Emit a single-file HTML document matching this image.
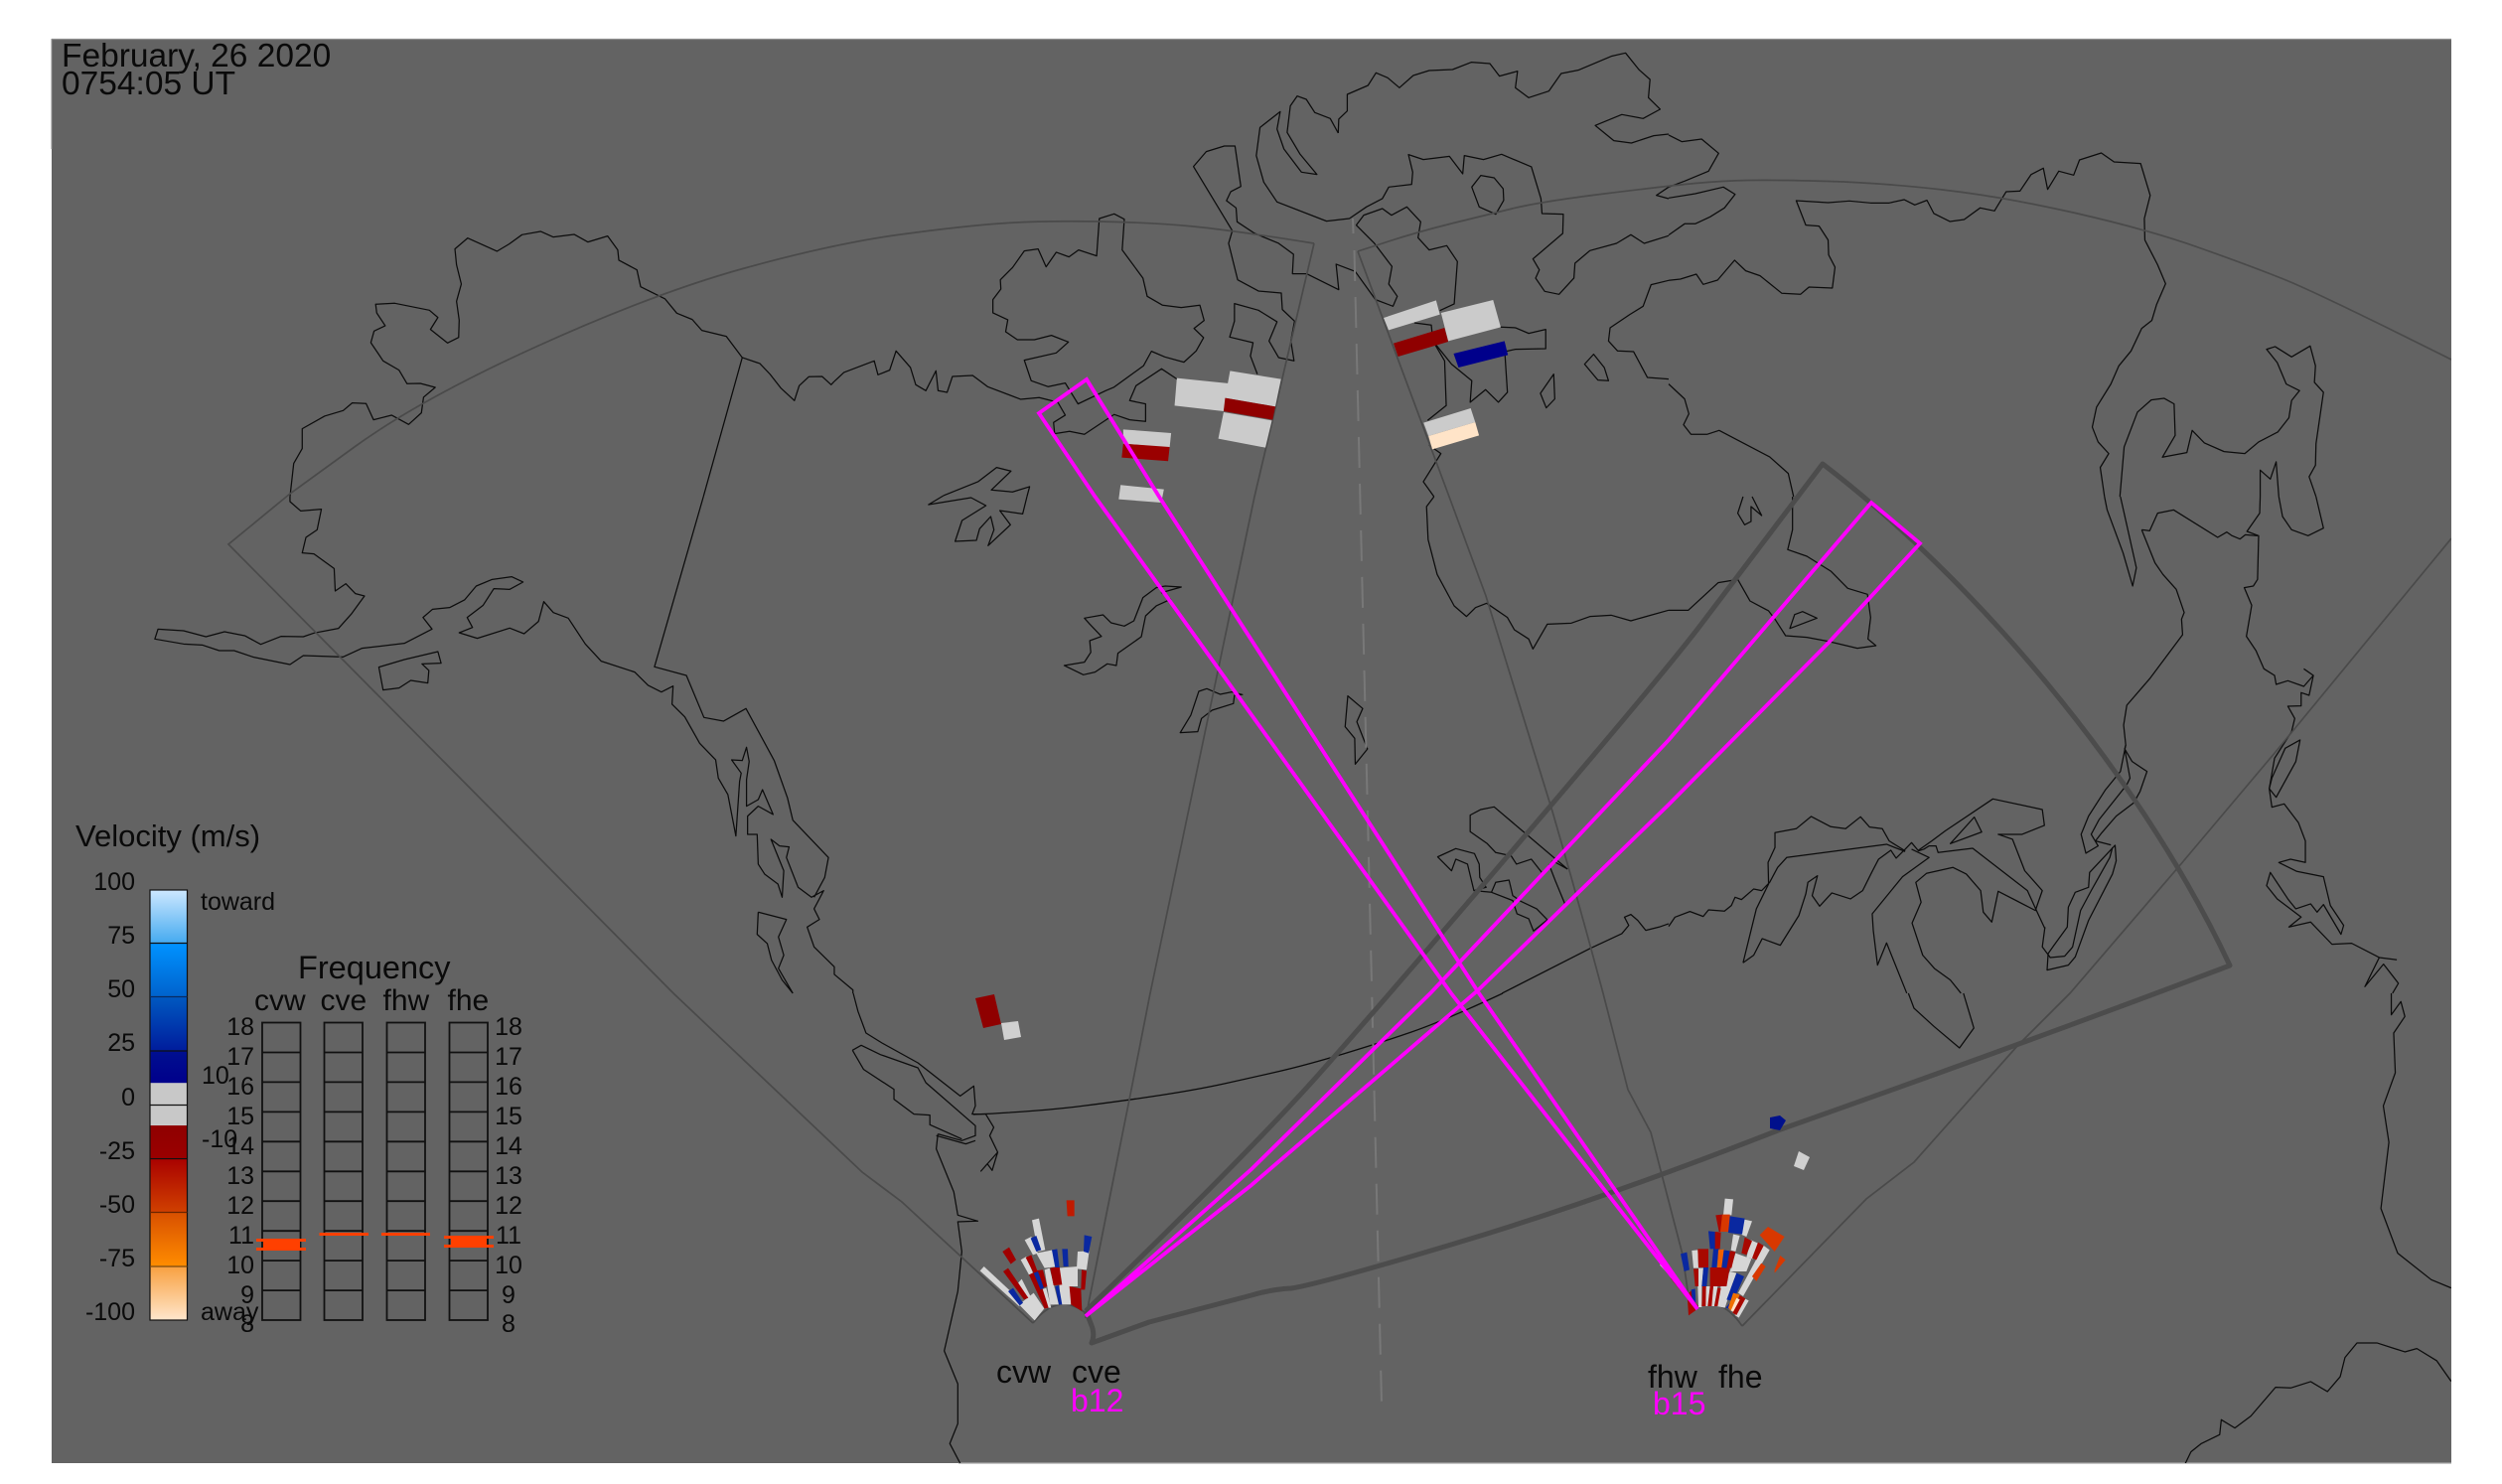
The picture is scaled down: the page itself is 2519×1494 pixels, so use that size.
<!DOCTYPE html>
<html><head><meta charset="utf-8"><style>
html,body{margin:0;padding:0;background:#fff}
svg{display:block}
.c polyline,.c polygon{fill:none;stroke:#0c0c0c;stroke-width:1.25;vector-effect:non-scaling-stroke;stroke-linejoin:round}
.t{font-family:"Liberation Sans",sans-serif;fill:#0a0a0a}
.f{stroke:#4a4a4a;stroke-width:1.7;fill:none}
</style></head><body>
<svg width="2519" height="1494" viewBox="0 0 2519 1494" xmlns="http://www.w3.org/2000/svg">
<defs>
<clipPath id="p"><rect x="52" y="39" width="2416" height="1434"/></clipPath>
<linearGradient id="bar" gradientUnits="userSpaceOnUse" x1="0" y1="896" x2="0" y2="1329">
<stop offset="0" stop-color="#cde8ff"/><stop offset=".124" stop-color="#45aaf0"/><stop offset=".125" stop-color="#0092ff"/>
<stop offset=".249" stop-color="#0062cc"/><stop offset=".25" stop-color="#0058c0"/><stop offset=".375" stop-color="#001c9c"/>
<stop offset=".376" stop-color="#000f90"/><stop offset=".448" stop-color="#00008b"/><stop offset=".449" stop-color="#c8c8c8"/>
<stop offset=".547" stop-color="#c8c8c8"/><stop offset=".548" stop-color="#8f0000"/><stop offset=".621" stop-color="#9a0000"/>
<stop offset=".622" stop-color="#a80000"/><stop offset=".749" stop-color="#d04000"/><stop offset=".75" stop-color="#d85000"/>
<stop offset=".874" stop-color="#ff8c00"/><stop offset=".875" stop-color="#f8a040"/><stop offset="1" stop-color="#ffe6cc"/>
</linearGradient>
</defs>
<rect width="2519" height="1494" fill="#fff"/>
<rect x="52" y="39" width="2416" height="1434" fill="#636363"/>
<line x1="52" y1="39.5" x2="2468" y2="39.5" stroke="#8c8c8c" stroke-width="1.2"/>
<line x1="965" y1="1473" x2="2468" y2="1473" stroke="#a8a8a8" stroke-width="1.2"/>
<line x1="52" y1="39" x2="52" y2="150" stroke="#8c8c8c" stroke-width="1"/>
<g clip-path="url(#p)">
<g class="c">
<g transform="translate(0,0) scale(.5357,.3333)">
<polyline points="545,1500 552,1400 568,1355 568,1295 610,1257 645,1240 662,1217 688,1219 702,1268 736,1254 768,1282 792,1247 796,1200 818,1170 790,1158 765,1159 750,1118 720,1090 697,1035 703,1000 724,984 708,945 706,919 742,916 807,937 823,959 809,995 841,1036 862,1019 863,967 858,910 867,858 858,800 855,752 879,719 934,759 957,737 981,709 1016,699 1040,716 1079,708 1105,731 1142,713 1161,755 1163,786 1197,815 1204,866 1250,903 1272,946 1301,965 1319,998 1365,1016 1395,1080 1428,1098 1447,1130 1468,1173 1493,1210 1502,1165 1520,1138 1545,1137 1562,1162 1568,1152"/>
<polyline points="1395,1080 1322,1500"/>
</g>
<g transform="translate(840,0) scale(.5357,.3333)">
<polyline points="0,1152 18,1125 75,1090 82,1132 104,1118 116,1060 143,1110 153,1162 172,1180 191,1120 195,1180 212,1185 222,1137 260,1134 288,1168 350,1206 385,1201 420,1215 434,1254 412,1276 414,1310 442,1303 470,1312 526,1252 555,1268 585,1273 585,1220 555,1210 567,1165 615,1114 645,1146"/>
<polyline points="795,1130 782,1075 787,1035 743,1018 752,970 752,917 797,937 832,972 817,1030 835,1080 864,1090 858,1030 865,970 842,935 840,885 797,879 758,845 741,735 748,697 675,503 699,458 733,441 753,441 764,563 745,579 737,606 755,628 757,670 790,705 835,735 863,768 861,827 888,827 948,875 943,798 979,820 988,840 1017,905 1050,925 1058,895 1042,858 1048,805 1015,735 981,680 995,650 1030,630 1047,650 1076,625 1102,670 1097,718 1118,755 1151,742 1171,790 1165,918 1138,938"/>
<polyline points="1090,975 1122,982 1125,1030 1147,1090 1150,1225 1115,1270"/>
<polyline points="1118,1345 1140,1370 1107,1455 1127,1500"/>
<polyline points="1125,1030 1160,1100 1198,1150 1195,1215 1224,1177 1248,1215 1265,1185 1260,1062 1280,1055 1337,1053 1337,995 1305,1007 1280,990 1252,988"/>
<polygon points="458,1220 434,1157 402,1168 370,1150 357,1088 417,1066 440,1033 408,1013 376,1026 344,1026 322,1002 326,966 298,945 298,905 313,873 312,845 335,808 357,758 383,752 398,806 417,762 441,776 459,755 493,773 498,660 526,646 545,662 541,755 580,840 588,895 617,922 652,929 687,922 695,968 676,992 694,1020 680,1060 657,1094 621,1078 596,1061 581,1105 525,1170 510,1180"/>
<polyline points="947,402 932,358 903,340 887,300 870,290 857,320 851,400 875,465 907,527 878,520 845,450 832,390 838,337 800,385 793,470 807,550 832,610 925,668 968,660 1000,625 1030,600 1042,565 1085,557 1087,520 1079,467 1107,482 1156,472 1181,525 1184,470 1220,482 1254,466 1310,504 1328,600 1330,645 1370,647 1369,705 1313,782 1325,815 1318,840 1335,880 1362,889 1390,840 1392,795 1420,757 1470,735 1497,709 1522,735 1568,712"/>
<polyline points="947,402 948,360 964,335 964,285 1003,258 1018,220 1040,235 1062,265 1088,228 1118,213 1162,210 1197,188 1232,192 1250,230 1284,215 1280,265 1305,295 1343,275 1366,222 1398,212 1460,170 1487,160 1512,210 1533,240 1530,295 1552,330 1520,358 1480,346 1430,379 1465,425 1498,432 1540,410 1568,405"/>
<polygon points="1198,565 1215,530 1240,537 1257,570 1258,605 1243,647 1212,625"/>
<polygon points="1410,1100 1427,1070 1447,1110 1455,1150 1435,1148"/>
<polygon points="1327,1188 1352,1130 1354,1205 1338,1232"/>
<polyline points="1568,600 1545,590 1568,565"/>
<polyline points="1568,847 1535,860 1520,925 1495,950 1458,990 1455,1030 1472,1060 1502,1062 1528,1140 1568,1145"/>
<polyline points="205,1497 270,1455 305,1412 332,1423 295,1480 335,1486 367,1470 362,1500"/>
</g>
<g transform="translate(1680,0) scale(.5351,.3333)">
<polyline points="0,408 25,428 62,420 94,463 75,517 30,547 0,565"/>
<polyline points="0,598 50,585 103,565 125,587 105,628 78,655 50,676 30,676 0,710"/>
<polyline points="0,847 22,843 52,828 65,859 92,846 124,786 145,818 172,833 213,886 248,889 264,867 308,870 313,807 301,770 300,725 283,683 258,680 240,606 300,612 340,607 380,613 415,613 443,603 463,619 486,605 499,645 529,669 556,663 586,628 613,637 635,579 661,577 682,527 705,508 713,572 734,517 762,529 773,483 814,462 838,489 888,494 906,590 895,660 896,725 920,800 935,857 918,920 909,968 890,992 870,1060 847,1105 832,1160 805,1230 797,1290 808,1335 828,1370 812,1412 820,1500"/>
<polyline points="0,1160 30,1205 38,1250 28,1283 42,1312 72,1312 95,1300 190,1380 225,1430 235,1500"/>
<polyline points="849,1500 857,1350 882,1245 908,1208 932,1203 951,1220 953,1315 929,1381 975,1367 985,1300 1008,1338 1045,1364 1084,1370 1110,1335 1146,1305 1167,1262 1172,1210 1187,1180 1162,1160 1145,1095 1125,1055 1141,1047 1172,1078 1207,1045 1217,1105 1215,1155 1232,1185 1218,1340 1217,1405 1205,1440 1218,1500"/>
<polyline points="1113,1500 1113,1420 1132,1447 1143,1395 1148,1500"/>
</g>
<g transform="translate(1680,500) scale(.5351,.3333)">
<polyline points="233,0 233,100 224,160 260,180 305,225 337,277 374,295 380,365 375,430 390,450 355,458 300,437 260,425 220,420 200,370 188,345 153,315 130,250 93,260 37,343 0,343"/>
<polygon points="228,398 237,356 252,347 279,367"/>
<polyline points="140,0 130,50 143,85 155,75 155,30 175,57 157,0"/>
<polyline points="820,0 825,40 855,170 873,270 880,215 850,0"/>
<polyline points="1113,0 1112,50 1088,105 1110,118 1108,250 1100,270 1083,275 1097,328 1087,422 1105,465 1120,520 1140,540 1143,567 1165,556 1195,573 1213,540 1195,520"/>
<polyline points="1213,540 1205,600 1190,592 1190,632 1165,633 1178,670 1172,710 1140,790 1130,882 1135,938 1158,928 1185,985 1198,1040 1198,1105 1170,1095 1148,1105 1182,1132 1232,1148 1245,1235 1270,1295 1265,1322 1232,1232 1220,1255 1208,1230 1180,1245 1165,1215 1132,1135 1125,1175 1145,1215 1190,1270 1167,1300 1208,1285 1248,1352 1285,1349 1337,1392 1310,1480 1345,1412 1373,1470 1362,1500"/>
<polyline points="1337,1392 1370,1399"/>
<polygon points="1188,735 1160,760 1135,850 1130,882 1143,908 1180,800"/>
<polyline points="1148,0 1155,60 1172,100 1203,118 1232,95 1218,0"/>
<polyline points="890,100 905,103 920,50 950,40 1033,123 1050,107 1060,118 1075,128 1085,115 1108,118"/>
<polyline points="890,100 915,200 930,235 955,280 970,350 965,370 967,417 905,550 862,630 856,690 860,750 858,762 872,800 900,830 887,890 875,925 842,965 815,1015 803,1040 832,1052"/>
<polyline points="860,750 850,830 822,885 790,965 776,1020 785,1077 808,1055 795,1020 810,975 862,870 868,850 858,762"/>
<polygon points="840,1053 792,1135 790,1180 765,1195 752,1240 750,1300 725,1355 714,1380 712,1430 752,1415 765,1390 790,1280 835,1140 842,1100"/>
<polyline points="835,1060 830,1090 795,1190 775,1250 760,1360 745,1388 718,1392 703,1360 708,1300"/>
<polyline points="140,1408 160,1385 176,1335 210,1355 245,1265 258,1200 262,1165 280,1145 270,1205 284,1237 307,1197 342,1215 365,1190 382,1135 395,1095 418,1068 428,1092 445,1065 457,1045 470,1070 480,1065 490,1055 503,1055 507,1075 572,1062 675,1190 692,1250 708,1305"/>
<polyline points="0,1298 12,1270 40,1253 65,1268 75,1248 105,1252 118,1235 125,1210 137,1217 160,1185 175,1190 190,1165 205,1120 222,1090 410,1050 445,1072"/>
<polyline points="140,1408 165,1245 188,1170 187,1105 200,1060 200,1015 240,1003 268,966 305,997 333,1003 361,967 378,998 402,1003 415,1040 445,1070"/>
<polyline points="470,1068 495,1040 520,1010 610,913 703,945 707,993 665,1020 620,1020 647,1035 670,1130 703,1190 690,1250 620,1192 608,1285 592,1255 587,1190 560,1140 535,1120 485,1138 465,1165 475,1225 458,1288 478,1385 500,1425 530,1460 550,1500"/>
<polyline points="457,1065 490,1090 440,1148 383,1260 385,1310 393,1415 410,1348 423,1400 448,1500"/>
<polygon points="530,1048 575,968 589,1013"/>
</g>
<g transform="translate(0,500) scale(.5357,.3333)">
<polyline points="545,0 545,15 565,43 604,38 596,100 575,123 568,170 590,173 628,217 630,285 650,263 668,293 685,300 660,355 636,398 590,412 570,423 528,422 490,446 460,420 422,408 387,423 345,405 297,400 291,430 345,445 380,448 412,465 440,465 477,485 545,507 570,480 645,484 680,458 760,443 812,400 795,365 813,340 845,335 873,312 895,270 925,250 962,242 983,258 958,280 928,278 908,328 878,365 888,395 863,411 897,428 958,397 985,414 1012,377 1022,317 1040,350 1068,367 1100,445 1130,497 1193,530 1218,570 1243,590 1265,572 1263,627 1287,665 1315,745 1345,795 1350,850 1368,900 1383,1025 1390,860 1393,835 1375,795 1395,797 1403,757 1408,800 1403,855 1403,935 1425,915 1433,885 1453,960 1425,935 1405,965 1405,1020 1423,1020 1425,1110 1437,1140 1462,1170 1470,1210 1473,1130 1449,1035 1465,1055 1483,1058 1478,1090 1500,1180 1525,1210 1548,1190 1530,1245 1540,1277 1517,1300 1530,1360 1568,1420 1568,1443 1603,1490 1603,1500"/>
<polygon points="712,515 760,492 823,468 829,503 793,505 806,525 804,563 772,555 750,578 720,584"/>
<polyline points="1322,0 1230,514 1290,540 1323,667 1360,678 1402,640 1455,797 1480,910 1490,977 1557,1090 1550,1150 1530,1210"/>
<polyline points="1425,1255 1478,1277 1463,1330 1473,1385 1463,1425 1490,1500"/>
<polyline points="1425,1255 1423,1322 1442,1350 1450,1400 1470,1460 1490,1500"/>
</g>
<g transform="translate(840,500) scale(.5357,.3333)">
<polyline points="205,-3 177,24 257,3 285,27 240,72 227,135 267,132 273,97 294,60 300,100 289,148 331,85 311,42 354,52 362,0"/>
<polyline points="1127,0 1113,30 1116,130 1133,235 1165,330 1188,362 1205,335 1226,322 1265,365 1278,402 1305,430 1313,460 1340,385 1385,382 1420,362 1460,358 1497,375 1530,360 1568,343"/>
<polygon points="470,367 505,357 520,381 545,391 563,375 580,305 605,275 622,270 652,273 615,290 632,310 605,330 585,360 577,423 533,473 530,510 513,505 490,530 468,538 432,510 470,500 482,470 480,435 502,422 480,385"/>
<polygon points="650,713 683,710 690,670 710,645 750,625 752,600 767,598 747,590 725,597 700,580 685,588 670,660"/>
<polygon points="965,602 993,640 982,680 1002,762 979,808 978,730 960,695"/>
<polyline points="1378,1125 1240,937 1215,945 1195,962 1195,1012 1227,1048 1243,1075 1272,1085 1282,1110 1310,1095 1332,1140 1350,1100 1378,1125"/>
<polyline points="1202,1190 1225,1180 1213,1150 1212,1110 1203,1078 1168,1063 1134,1088 1160,1130 1168,1095 1190,1110 1202,1190 1235,1195 1275,1220 1283,1260 1305,1275 1314,1312 1340,1278 1320,1245 1290,1222 1275,1205 1268,1158 1243,1165 1235,1195"/>
<polyline points="1343,1110 1355,1160 1373,1230"/>
<polyline points="1255,1500 1420,1365 1480,1320 1493,1295 1485,1270 1497,1262 1510,1280 1525,1310 1550,1300 1568,1290"/>
</g>
<g transform="translate(0,1000) scale(.8036,.3333)">
<polyline points="1069,0 1075,55 1085,120 1105,150 1150,210 1203,310 1220,280 1222,340 1218,365 1235,365 1245,405 1240,430 1250,480 1243,535 1237,515 1229,537 1250,480"/>
<polyline points="1068,172 1079,157 1103,185 1150,225 1160,270 1222,400 1222,430 1205,445 1175,425"/>
<polyline points="1068,172 1082,230 1120,290 1120,320 1145,365 1165,368 1165,397 1205,440"/>
<polyline points="1173,430 1210,455 1222,445"/>
<polyline points="1175,425 1173,470 1195,600 1200,670 1225,688 1200,690 1205,780 1200,900 1183,1080 1200,1180 1200,1300 1190,1360 1203,1420"/>
</g>
<g transform="translate(1260,1000) scale(.8036,.3333)">
<polyline points="823,0 830,45 855,100 887,165 905,105 892,0"/>
<polyline points="1428,0 1428,65 1440,25 1445,70 1431,120 1433,240 1418,340 1425,450 1415,650 1436,785 1478,865 1503,890"/>
<polyline points="1170,1420 1177,1385 1190,1360 1213,1333 1215,1288 1232,1313 1252,1277 1283,1190 1302,1192 1327,1173 1348,1203 1364,1158 1370,1100 1385,1056 1410,1056 1445,1083 1460,1073 1485,1110 1503,1172"/>
</g>
</g>
<!-- 49th-parallel arc -->
<path d="M980,1122Q1045,1119 1089,1113.5Q1133,1108 1169,1102.5Q1205,1097 1232.5,1091Q1260,1085 1288,1078.5Q1316,1072 1352.5,1061Q1389,1050 1421,1039Q1453,1028 1513,1000" fill="none" stroke="#0c0c0c" stroke-width="1.25"/>
<!-- radar fans -->
<path class="f" d="M1323,245L1263,500L1158,1000L1139,1097L1093,1327"/>
<path class="f" d="M1323,245Q1242,232 1201.5,228Q1161,224 1107.5,223Q1054,222 1014,224.5Q974,227 907,236Q840,245 749.5,270Q659,295 541,348.5Q423,402 357.5,449.5L292,497L230,548L678,1000L868,1180L908,1210L1040,1332"/>
<path class="f" d="M1040,1332Q1065,1300 1093,1322"/>
<path class="f" d="M1367,253L1459,500L1496,600Q1530,710 1563,817Q1590,910 1614,1000L1639,1097L1662,1140L1694,1263L1702,1320"/>
<path class="f" d="M1367,253L1398,243Q1429,233 1461.5,225Q1494,217 1522.5,210Q1551,203 1615.5,195Q1680,187 1707,184.5Q1734,182 1760.5,181.5Q1787,181 1840.5,182.5Q1894,184 1955.5,191Q2017,198 2089.5,214.5Q2162,231 2213,249Q2264,267 2299,281Q2334,295 2468,362"/>
<path class="f" d="M2468,542L2291,757L2194,872L2084,1000L2031,1053L1927,1170L1879,1207L1754,1335"/>
<path class="f" d="M1702,1320Q1730,1300 1754,1335"/>
<!-- dashed -->
<line x1="1362" y1="220" x2="1362.5" y2="235" stroke="#787878" stroke-width="2"/>
<line x1="1363.5" y1="252" x2="1391" y2="1413" stroke="#787878" stroke-width="2" stroke-dasharray="31 16"/>
<!-- thick FOV -->
<path fill="none" stroke="#4c4c4c" stroke-width="5" stroke-linejoin="round" d="M1093,1320Q1260,1158 1330,1079Q1400,1000 1540,836Q1680,672 1713.5,627.5Q1747,583 1835,467C1980,578 2150,770 2245,972Q2031,1053 1790,1138Q1614,1207 1471,1250Q1328,1293 1300,1297Q1280,1298 1260,1304L1157,1331L1099,1352Q1103,1343 1098,1332Q1096,1326 1093,1320"/>
<!-- high-latitude data -->
<g transform="translate(1000,250) scale(.3827,.3333)">
<g fill="#cbcbcb">
<polygon points="483,392 620,408 606,492 477,475"/>
<polygon points="623,370 757,395 742,478 610,452"/>
<polygon points="606,495 733,520 716,602 592,575"/>
<polygon points="342,547 468,558 464,602 342,590"/>
<polygon points="335,715 449,728 442,768 330,758"/>
<polygon points="1027,210 1165,157 1175,200 1040,247"/>
<polygon points="1178,195 1315,156 1335,238 1197,280"/>
<polygon points="1132,527 1256,483 1268,525 1145,567"/>
</g>
<polygon fill="#8f0000" points="610,452 742,478 735,518 606,492"/>
<polygon fill="#9a0000" points="342,590 464,600 460,643 338,632"/>
<polygon fill="#8f0000" points="1053,287 1187,240 1197,282 1065,327"/>
<polygon fill="#00008b" points="1211,318 1345,280 1354,322 1224,360"/>
<polygon fill="#ffe4c8" points="1145,567 1268,525 1278,565 1155,607"/>
</g>
<polygon fill="#8f0000" points="982,1005 1001,1001 1008,1031 990,1035"/>
<polygon fill="#d0d0d0" points="1008,1030 1025,1028 1028,1044 1011,1047"/>
<polygon fill="#00108c" points="1782,1125 1792,1123 1798,1128 1792,1138 1782,1136"/>
<polygon fill="#d0d0d0" points="1811,1159 1822,1165 1816,1178 1806,1174"/>
<!-- cvw/cve fan data -->
<g transform="translate(950,1180) scale(.3333)">
<g fill="#d6d6d6">
<polygon points="110,298 122,285 240,395 228,405"/>
<polygon points="228,400 272,365 304,412 275,448"/>
<polygon points="225,335 236,323 265,380 255,385"/>
<polygon points="267,145 288,140 307,235 285,240"/>
<polygon points="245,205 265,195 285,245 270,250"/>
<polygon points="233,265 250,255 270,305 258,310"/>
<polygon points="280,245 330,235 345,285 305,290"/>
<polygon points="305,295 320,290 348,400 322,400"/>
<polygon points="295,355 310,350 325,410 315,410"/>
<polygon points="345,290 405,285 405,345 350,345"/>
<polygon points="350,345 385,340 385,400 350,400"/>
<polygon points="405,240 440,238 432,295 402,292"/>
</g>
<g fill="#a00000">
<polygon points="178,240 198,227 219,265 203,278"/>
<polygon points="180,300 195,290 256,380 243,385"/>
<polygon points="248,258 265,250 285,303 272,305"/>
<polygon points="258,310 282,298 317,410 305,412"/>
<polygon points="282,297 300,295 313,345 300,350"/>
<polygon points="322,290 350,285 358,340 332,342"/>
<polygon points="380,345 415,352 418,420 385,400"/>
<polygon points="417,295 432,298 427,355 415,355"/>
</g>
<polygon fill="#c01a00" points="371,85 395,85 395,133 374,133"/>
<g fill="#0a28a0">
<polygon points="195,360 210,350 240,395 230,403"/>
<polygon points="263,200 280,192 295,235 280,240"/>
<polygon points="272,305 285,300 303,350 293,355"/>
<polygon points="327,235 343,232 350,288 337,288"/>
<polygon points="358,232 375,232 377,285 362,285"/>
<polygon points="337,345 348,342 358,400 348,400"/>
<polygon points="425,190 448,195 438,245 423,240"/>
</g>
</g>
<!-- fhw/fhe fan data -->
<g transform="translate(1630,1180) scale(.3333)">
<g fill="#d6d6d6">
<polygon points="320,80 345,82 340,130 315,130"/>
<polygon points="378,143 402,148 385,195 368,188"/>
<polygon points="345,188 365,192 352,240 338,236"/>
<polygon points="398,205 420,215 405,262 385,258"/>
<polygon points="437,222 455,235 375,375 360,365"/>
<polygon points="220,237 238,235 240,290 225,290"/>
<polygon points="352,245 400,262 385,300 335,300"/>
<polygon points="240,290 255,290 250,345 240,345"/>
<polygon points="335,300 355,305 325,385 305,350"/>
<polygon points="238,345 250,345 250,408 240,408"/>
<polygon points="263,345 275,345 270,405 260,405"/>
<polygon points="285,345 298,345 288,405 278,405"/>
<polygon points="305,350 340,350 320,410 295,405"/>
<polygon points="380,382 392,388 362,440 350,432"/>
</g>
<g fill="#a80800">
<polygon points="292,130 312,128 308,180 302,180"/>
<polygon points="290,180 308,182 305,232 287,232"/>
<polygon points="380,197 402,208 385,250 370,245"/>
<polygon points="420,212 437,222 415,265 402,260"/>
<polygon points="238,232 270,232 270,288 240,288"/>
<polygon points="335,238 352,240 340,290 322,288"/>
<polygon points="275,288 335,288 325,345 275,345"/>
<polygon points="225,292 240,292 240,345 230,345"/>
<polygon points="252,345 263,345 262,405 250,405"/>
<polygon points="275,345 285,345 280,405 268,405"/>
<polygon points="298,350 308,350 298,405 288,405"/>
<polygon points="365,372 382,382 355,432 343,425"/>
<polygon points="206,370 218,358 235,415 210,433"/>
</g>
<g fill="#d83800">
<polygon points="312,128 335,128 335,180 306,180"/>
<polygon points="425,190 450,165 500,195 470,240"/>
<polygon points="470,295 487,252 503,265 470,305"/>
<polygon points="402,315 430,275 443,285 415,330"/>
</g>
<g fill="#0a28a0">
<polygon points="335,133 380,140 372,188 330,183"/>
<polygon points="270,178 290,180 290,232 275,232"/>
<polygon points="186,247 205,242 213,295 197,300"/>
<polygon points="285,232 302,232 295,288 280,288"/>
<polygon points="315,235 335,238 325,290 308,288"/>
<polygon points="255,288 270,288 265,345 250,345"/>
<polygon points="355,305 378,315 345,390 325,385"/>
<polygon points="340,390 355,365 340,415 322,410"/>
<polygon points="218,355 230,352 232,395 222,395"/>
</g>
<polygon fill="#f06000" points="300,235 317,233 310,288 297,288"/>
<polygon fill="#f07000" points="345,365 365,370 340,420 330,410"/>
<polygon fill="#ffe4c8" points="355,380 365,385 345,422 338,418"/>
<polygon fill="#a00000" points="155,320 170,322 240,405 232,415"/>
<polygon fill="#e0e0e0" points="123,280 128,278 162,314 158,318"/>
</g>
<!-- magenta beams -->
<g fill="none" stroke="#ff00ff" stroke-width="3.8" stroke-linejoin="miter">
<polygon points="1093,1325 1260,1177 1440,1000 1680,745 1884,506 1933,547 1841,647 1680,810 1488,997 1260,1193"/>
<polygon points="1709,1318 1461,1000 1102.5,500 1046,416 1094,382 1167,500 1489,1000"/>
</g>
</g>
<!-- velocity legend -->
<rect x="151" y="896" width="37.5" height="433" fill="url(#bar)" stroke="#111" stroke-width="1.2"/>
<g stroke="#111" stroke-width="1.2">
<line x1="151" y1="949.5" x2="188.5" y2="949.5"/><line x1="151" y1="1003.5" x2="188.5" y2="1003.5" stroke="#0a2a60"/>
<line x1="151" y1="1058" x2="188.5" y2="1058"/><line x1="151" y1="1112.5" x2="188.5" y2="1112.5"/>
<line x1="151" y1="1166.5" x2="188.5" y2="1166.5"/><line x1="151" y1="1220.5" x2="188.5" y2="1220.5" stroke="#6a2400"/>
<line x1="151" y1="1275" x2="188.5" y2="1275" stroke="#7a4a10"/>
</g>
<!-- frequency boxes -->
<g fill="none" stroke="#111" stroke-width="1.8">
<rect x="264" y="1029.5" width="38.5" height="299.5"/><rect x="326.5" y="1029.5" width="38.5" height="299.5"/>
<rect x="389.5" y="1029.5" width="38.5" height="299.5"/><rect x="452.5" y="1029.5" width="38.5" height="299.5"/>
<path d="M264 1059.5h38.5M264 1089.4h38.5M264 1119.4h38.5M264 1149.3h38.5M264 1179.3h38.5M264 1209.2h38.5M264 1239.2h38.5M264 1269.1h38.5M264 1299.1h38.5"/>
<path d="M326.5 1059.5h38.5M326.5 1089.4h38.5M326.5 1119.4h38.5M326.5 1149.3h38.5M326.5 1179.3h38.5M326.5 1209.2h38.5M326.5 1239.2h38.5M326.5 1269.1h38.5M326.5 1299.1h38.5"/>
<path d="M389.5 1059.5h38.5M389.5 1089.4h38.5M389.5 1119.4h38.5M389.5 1149.3h38.5M389.5 1179.3h38.5M389.5 1209.2h38.5M389.5 1239.2h38.5M389.5 1269.1h38.5M389.5 1299.1h38.5"/>
<path d="M452.5 1059.5h38.5M452.5 1089.4h38.5M452.5 1119.4h38.5M452.5 1149.3h38.5M452.5 1179.3h38.5M452.5 1209.2h38.5M452.5 1239.2h38.5M452.5 1269.1h38.5M452.5 1299.1h38.5"/>
</g>
<g fill="#ff4000">
<rect x="265" y="1247" width="37" height="12"/><rect x="258" y="1247" width="50" height="3"/><rect x="258" y="1256" width="50" height="3"/>
<rect x="321.5" y="1241" width="49.5" height="3"/><rect x="384" y="1241" width="49" height="3"/>
<rect x="454" y="1244" width="36" height="12"/><rect x="447" y="1244" width="50" height="3"/><rect x="447" y="1253" width="50" height="3"/>
</g>
<!-- text -->
<g class="t">
<text x="62" y="67" font-size="33.5">February, 26 2020</text>
<text x="62" y="95" font-size="33.5">0754:05 UT</text>
<text x="76" y="852" font-size="31">Velocity (m/s)</text>
<g font-size="25" text-anchor="end">
<text x="136" y="896">100</text><text x="136" y="950">75</text><text x="136" y="1004">50</text><text x="136" y="1058">25</text><text x="136" y="1113">0</text><text x="136" y="1167">-25</text><text x="136" y="1221">-50</text><text x="136" y="1275">-75</text><text x="136" y="1329">-100</text>
<text x="256" y="1042">18</text><text x="256" y="1072">17</text><text x="256" y="1102">16</text><text x="256" y="1132">15</text><text x="256" y="1162">14</text><text x="256" y="1192">13</text><text x="256" y="1222">12</text><text x="256" y="1252">11</text><text x="256" y="1282">10</text><text x="256" y="1312">9</text><text x="256" y="1341">8</text>
</g>
<g font-size="25" text-anchor="middle">
<text x="512" y="1042">18</text><text x="512" y="1072">17</text><text x="512" y="1102">16</text><text x="512" y="1132">15</text><text x="512" y="1162">14</text><text x="512" y="1192">13</text><text x="512" y="1222">12</text><text x="512" y="1252">11</text><text x="512" y="1282">10</text><text x="512" y="1312">9</text><text x="512" y="1341">8</text>
</g>
<g font-size="25">
<text x="202" y="916">toward</text><text x="202" y="1329">away</text><text x="203" y="1091">10</text><text x="203" y="1155">-10</text>
</g>
<text x="300" y="985" font-size="32.5">Frequency</text>
<g font-size="30">
<text x="256" y="1017">cvw</text><text x="322.5" y="1017">cve</text><text x="385.5" y="1017">fhw</text><text x="450.5" y="1017">fhe</text>
</g>
<g font-size="32">
<text x="1003" y="1392">cvw</text><text x="1079" y="1392">cve</text>
<text x="1659" y="1397">fhw</text><text x="1730" y="1397">fhe</text>
<text x="1078" y="1421" style="fill:#ff00ff">b12</text><text x="1664" y="1424" style="fill:#ff00ff">b15</text>
</g>
</g>
</svg>
</body></html>
